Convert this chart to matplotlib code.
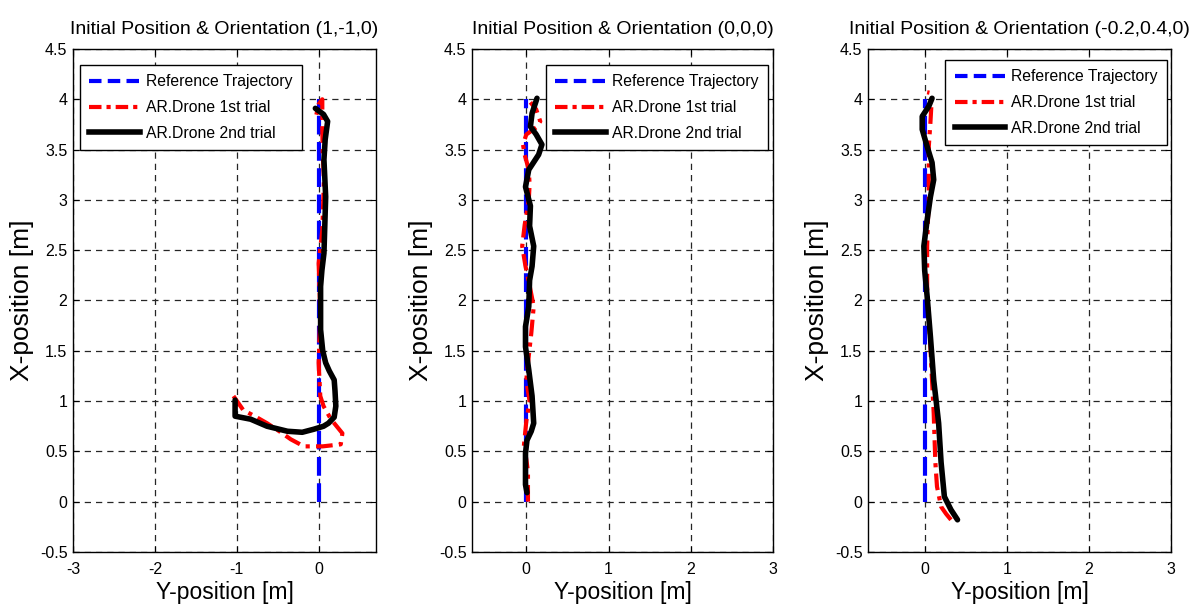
import matplotlib.pyplot as plt
from matplotlib.lines import Line2D

plt.rcParams['font.family'] = ['Liberation Sans', 'DejaVu Sans']

titles = ['Initial Position & Orientation (1,-1,0)',
          'Initial Position & Orientation (0,0,0)',
          'Initial Position & Orientation (-0.2,0.4,0)']
legend_labels = ['Reference Trajectory', 'AR.Drone 1st trial', 'AR.Drone 2nd trial']

# reference trajectory (Y, X)
ref_y = [0, 0]
ref_x = [0, 4]

# panel 1: start (1,-1,0)
p1_red_y = [-1.04, -0.92, -0.78, -0.63, -0.48, -0.34, -0.18, 0.05, 0.27, 0.29, 0.22, 0.15, 0.06,
            0.02, 0.0, 0.01, 0.02, 0.0, 0.045, 0.065, 0.05, 0.045, 0.045, 0.0, -0.04]
p1_red_x = [1.05, 0.91, 0.85, 0.78, 0.70, 0.62, 0.55, 0.55, 0.57, 0.68, 0.75, 0.82, 0.95,
            1.05, 1.38, 1.62, 1.88, 2.37, 2.70, 3.2, 3.45, 3.70, 4.0, 3.95, 3.8]
p1_blk_y = [-1.02, -1.02, -0.83, -0.63, -0.38, -0.2, -0.06, 0.06, 0.12, 0.19, 0.21, 0.20, 0.19,
            0.13, 0.086, 0.05, 0.024, 0.024, 0.04, 0.065, 0.086, 0.065, 0.08, 0.11, 0.06, -0.04]
p1_blk_x = [1.01, 0.85, 0.82, 0.75, 0.70, 0.69, 0.72, 0.75, 0.78, 0.84, 0.95, 1.1, 1.21,
            1.30, 1.38, 1.5, 1.71, 2.14, 2.3, 2.47, 3.03, 3.40, 3.6, 3.78, 3.85, 3.91]

# panel 2: start (0,0,0)
p2_red_y = [0.02, 0.02, 0.0, -0.03, 0.0, 0.04, 0.02, 0.0, 0.03, 0.06, 0.09, 0.04, -0.01, -0.05,
            -0.02, 0.03, 0.04, 0.03, -0.02, -0.04, 0.0, 0.12, 0.17, 0.12, 0.05]
p2_red_x = [0.0, 0.3, 0.42, 0.55, 0.8, 1.0, 1.1, 1.21, 1.45, 1.67, 1.94, 2.15, 2.34, 2.54,
            2.75, 3.0, 3.15, 3.3, 3.45, 3.55, 3.65, 3.72, 3.78, 3.9, 3.97]
p2_blk_y = [0.008, -0.01, -0.01, -0.01, 0.008, 0.06, 0.09, 0.07, 0.03, -0.01, -0.01, 0.03, 0.04,
            0.07, 0.09, 0.04, 0.05, -0.01, 0.03, 0.15, 0.19, 0.12, 0.05, 0.07, 0.13]
p2_blk_x = [0.09, 0.17, 0.3, 0.48, 0.61, 0.7, 0.78, 1.05, 1.31, 1.54, 1.74, 1.94, 2.2,
            2.34, 2.54, 2.74, 2.94, 3.13, 3.30, 3.45, 3.55, 3.65, 3.73, 3.86, 4.01]

# panel 3: start (-0.2,0.4,0)
p3_red_y = [0.32, 0.26, 0.2, 0.15, 0.13, 0.11, 0.09, 0.07, 0.05, 0.03, 0.03, 0.04, 0.05, 0.05,
            0.07, 0.09, 0.03]
p3_red_x = [-0.18, -0.12, -0.05, 0.15, 0.39, 0.88, 1.2, 1.54, 1.85, 2.14, 2.54, 2.8, 3.0, 3.53,
            3.77, 4.06, 4.07]
p3_blk_y = [0.40, 0.36, 0.32, 0.24, 0.2, 0.17, 0.14, 0.11, 0.07, 0.03, 0.0, -0.01, 0.03, 0.07,
            0.11, 0.09, 0.03, -0.03, -0.03, 0.05, 0.09]
p3_blk_x = [-0.18, -0.13, -0.08, 0.05, 0.39, 0.78, 1.0, 1.21, 1.64, 2.04, 2.3, 2.54, 2.80, 3.03,
            3.2, 3.37, 3.53, 3.70, 3.83, 3.93, 4.01]

trials = [
    (p1_red_y, p1_red_x, p1_blk_y, p1_blk_x),
    (p2_red_y, p2_red_x, p2_blk_y, p2_blk_x),
    (p3_red_y, p3_red_x, p3_blk_y, p3_blk_x),
]

yticks = [-0.5, 0, 0.5, 1, 1.5, 2, 2.5, 3, 3.5, 4, 4.5]
ytick_labels = ['-0.5', '0', '0.5', '1', '1.5', '2', '2.5', '3', '3.5', '4', '4.5']
xticks = [[-3, -2, -1, 0], [0, 1, 2, 3], [0, 1, 2, 3]]
xlims = [(-3, 0.7), (-0.66, 3), (-0.69, 3)]

axes_pos = [[0.0612, 0.0951, 0.2542, 0.8246],
            [0.3960, 0.0951, 0.2525, 0.8246],
            [0.7282, 0.0951, 0.2542, 0.8246]]
legend_anchor = [(0.023, 0.968, 'upper left'),
                 (0.983, 0.968, 'upper right'),
                 (0.987, 0.978, 'upper right')]

fig = plt.figure(figsize=(11.92, 6.10), dpi=100)

for i in range(3):
    ax = fig.add_axes(axes_pos[i])
    red_y, red_x, blk_y, blk_x = trials[i]

    ax.plot(ref_y, ref_x, color='blue', lw=3, dashes=(4.5, 1.8), solid_capstyle='butt', dash_capstyle='butt')
    ax.plot(red_y, red_x, color='red', lw=3, dashes=(4.0, 1.5, 1.0, 1.5), dash_capstyle='butt')
    ax.plot(blk_y, blk_x, color='black', lw=4, solid_capstyle='round', solid_joinstyle='round')

    ax.set_xlim(xlims[i])
    ax.set_ylim(-0.5, 4.5)
    ax.set_xticks(xticks[i])
    ax.set_xticklabels([str(t) for t in xticks[i]])
    ax.set_yticks(yticks)
    ax.set_yticklabels(ytick_labels)
    ax.tick_params(direction='in', top=True, right=True, length=4, width=0.8, labelsize=11.5)
    ax.tick_params(axis='x', pad=7)
    ax.tick_params(axis='y', pad=4)
    ax.grid(True, color='0.15', lw=0.9, linestyle=(0, (5, 4)))
    for s in ax.spines.values():
        s.set_linewidth(1.0)

    ax.set_title(titles[i], fontsize=14, pad=11)
    ax.set_xlabel('Y-position [m]', fontsize=16.5, labelpad=3)
    ax.set_ylabel('X-position [m]', fontsize=19, labelpad=4)

    handles = [Line2D([], [], color='blue', lw=3, dashes=(3.0, 1.5)),
               Line2D([], [], color='red', lw=3, dashes=(3.0, 1.2, 1.0, 1.2)),
               Line2D([], [], color='black', lw=4)]
    bx, by, loc = legend_anchor[i]
    leg = ax.legend(handles, legend_labels, loc=loc, bbox_to_anchor=(bx, by), fontsize=11.3,
                    fancybox=False, framealpha=1, edgecolor='black', handlelength=3.2,
                    handletextpad=0.4, labelspacing=0.68, borderaxespad=0, borderpad=0.6)
    leg.get_frame().set_linewidth(1.0)

plt.savefig('out.png', dpi=100)
